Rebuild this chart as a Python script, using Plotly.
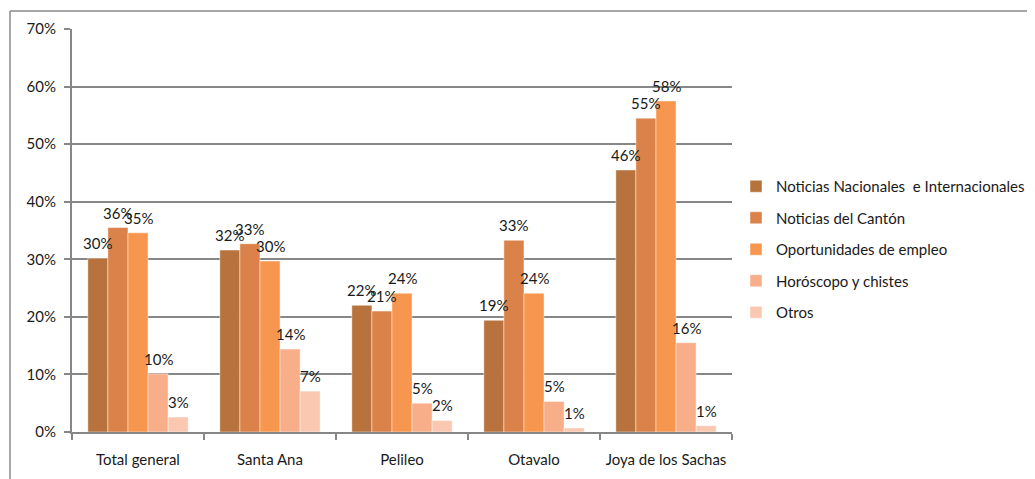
import plotly.graph_objects as go

categories = ["Total general", "Santa Ana", "Pelileo", "Otavalo", "Joya de los Sachas"]
series_names = [
    "Noticias Nacionales\u00a0 e Internacionales",
    "Noticias del Cantón",
    "Oportunidades de empleo",
    "Horóscopo y chistes",
    "Otros",
]
nacionales = [0.302, 0.316, 0.220, 0.194, 0.4551]
canton = [0.3551, 0.327, 0.210, 0.333, 0.5451]
empleo = [0.346, 0.297, 0.241, 0.241, 0.5751]
horoscopo = [0.101, 0.144, 0.050, 0.053, 0.1551]
otros = [0.026, 0.071, 0.020, 0.007, 0.011]

values = [nacionales, canton, empleo, horoscopo, otros]
colors = ["#B7723D", "#DA8249", "#F6964F", "#F7AE89", "#FAC8B1"]

FONT = "Lato, Calibri, sans-serif"
FS = 15
W, H = 1035, 479
# plot area in figure pixels (page has an 8px body offset)
L, R, T, B = 64, 724, 21, 424
pw, ph = R - L, B - T
def px(x):
    return (x - L) / pw
def py(y):
    return (B - y) / ph

BARGAP = 0.24
n = len(values)
slot = pw / len(categories) * (1 - BARGAP) / n

fig = go.Figure()
annotations = []
for i, (name, vals, col) in enumerate(zip(series_names, values, colors)):
    fig.add_trace(go.Bar(
        x=categories, y=vals, name=name,
        marker=dict(color=col, line=dict(color="rgba(255,255,255,0.45)", width=1)),
        legendgroup=f"g{i}",
    ))
    for c, v in zip(categories, vals):
        annotations.append(dict(
            x=c, y=v, xref="x", yref="y", text=f"{v:.0%}", showarrow=False,
            xanchor="center", yanchor="bottom", xshift=(i - (n - 1) / 2) * slot,
            yshift=4, font=dict(family=FONT, size=FS, color="#1a1a1a"),
        ))

grid = "#878787"
fig.update_layout(
    width=W, height=H,
    margin=dict(l=L, r=W - R, t=T, b=H - B, autoexpand=False),
    paper_bgcolor="white", plot_bgcolor="white",
    barmode="group", bargap=BARGAP, bargroupgap=0,
    font=dict(family=FONT, size=FS, color="#1a1a1a"),
    showlegend=True,
    legend=dict(x=px(728), y=py(162), xanchor="left", yanchor="top",
                font=dict(family=FONT, size=FS, color="#1a1a1a"),
                tracegroupgap=9, itemwidth=30, bgcolor="rgba(0,0,0,0)"),
    xaxis=dict(type="category", showline=True, linecolor=grid, linewidth=2,
               ticks="outside", tickson="boundaries", ticklen=6, tickwidth=2,
               tickcolor=grid, showgrid=False, ticklabelstandoff=13,
               tickfont=dict(family=FONT, size=FS, color="#1a1a1a")),
    yaxis=dict(range=[0, 0.7], dtick=0.1, tickformat=".0%", showline=True,
               linecolor=grid, linewidth=2, ticks="outside", ticklen=6,
               tickwidth=2, tickcolor=grid, showgrid=True, gridcolor=grid,
               gridwidth=2, zeroline=False, ticklabelstandoff=5,
               tickfont=dict(family=FONT, size=FS, color="#1a1a1a")),
    annotations=annotations,
    shapes=[
        dict(type="line", xref="paper", yref="paper", x0=px(2), x1=px(1100),
             y0=py(3), y1=py(3), line=dict(color="#8a8a8a", width=1.5)),
        dict(type="line", xref="paper", yref="paper", x0=px(2), x1=px(2),
             y0=py(3), y1=py(520), line=dict(color="#8a8a8a", width=1.5)),
    ],
)

fig.write_html("out.html")
